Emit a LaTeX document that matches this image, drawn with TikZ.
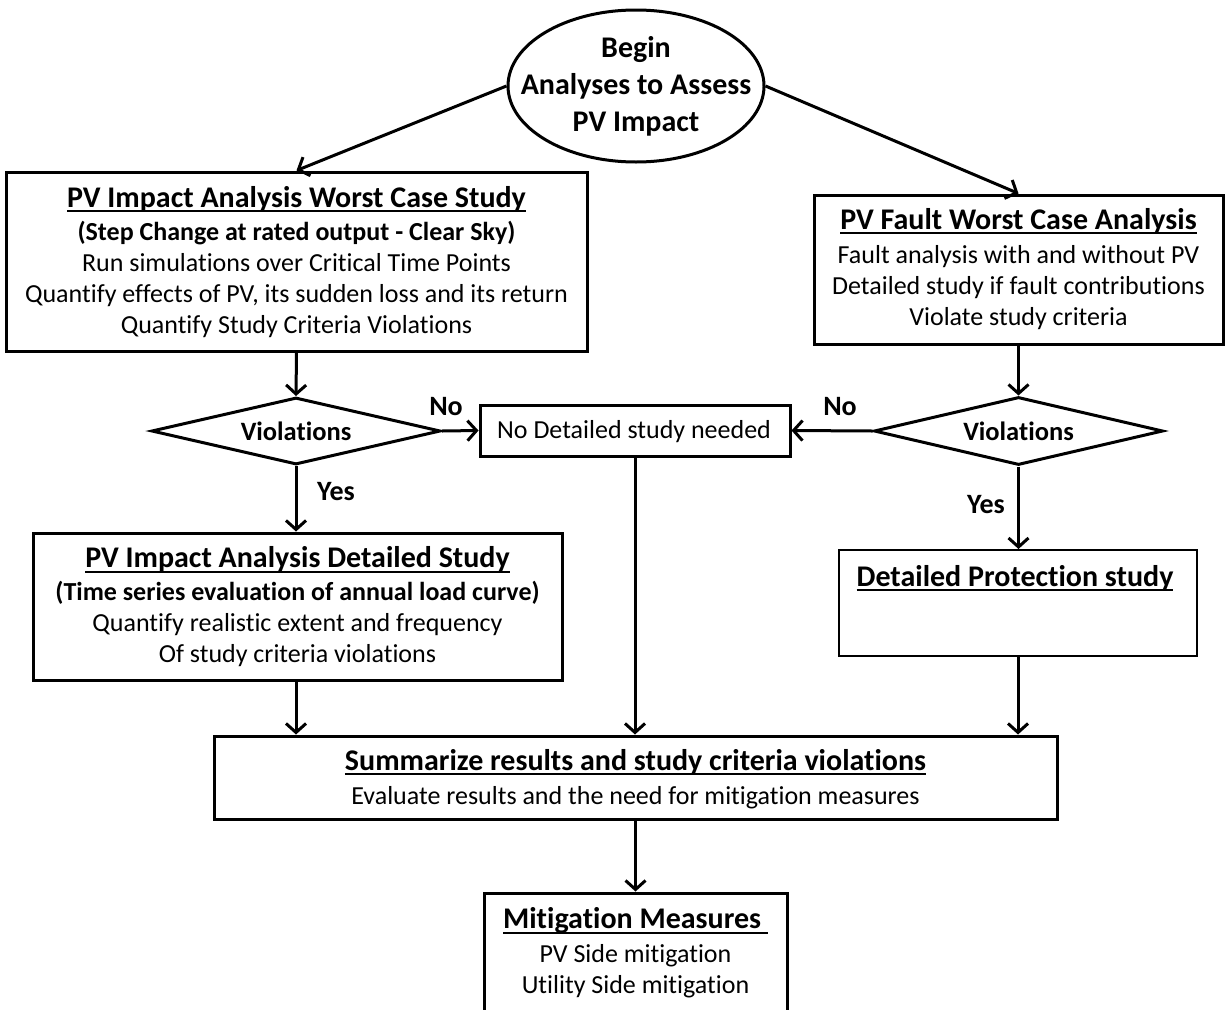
\documentclass[tikz,border=0pt]{standalone}
\usepackage{fontspec}
\setmainfont[Ligatures=NoCommon]{Carlito}
\usetikzlibrary{shapes.geometric,arrows.meta}
\newcommand\myul[1]{\setbox0\hbox{#1}\rlap{\vrule height -3pt depth 5pt width \wd0}\box0}
\begin{document}
\begin{tikzpicture}[x=1pt,y=-1pt,
  box/.style={draw,line width=3pt,inner sep=0pt,align=center,font=\fontsize{26}{31}\selectfont},
  txt/.style={align=center,inner sep=0pt,font=\fontsize{26}{31}\selectfont},
  dia/.style={draw,diamond,line width=3pt,inner sep=0pt,shape aspect=5,font=\bfseries\fontsize{26.5}{28}\selectfont},
  lbl/.style={font=\bfseries\fontsize{28}{30}\selectfont,inner sep=0pt},
  arr/.style={line width=3pt,-{Straight Barb[length=9pt,width=20pt,line width=3pt]}},
  hd/.style={font=\bfseries\fontsize{30}{32}\selectfont}
]
\useasboundingbox (0,0) rectangle (1225,1009);
\fill[white] (0,0) rectangle (1225,1009);

\node[draw,ellipse,line width=3pt,inner sep=0pt,minimum width=256,minimum height=152] (ell) at (636,86) {};
\node[txt,font=\bfseries\fontsize{30}{37}\selectfont] (te) at (636,86) {Begin\\Analyses to Assess\\PV Impact};

\node[box,minimum width=581,minimum height=179] (b1) at (296.5,261.5) {};
\node[txt] (t1) at (296.5,262) {{\bfseries\fontsize{30}{32}\selectfont\myul{PV Impact Analysis Worst Case Study}}\\[2pt]{\bfseries\fontsize{26}{30}\selectfont(Step Change at rated output - Clear Sky)}\\Run simulations over Critical Time Points\\Quantify effects of PV, its sudden loss and its return\\Quantify Study Criteria Violations};

\node[box,minimum width=409,minimum height=149] (b2) at (1018.5,269.5) {};
\node[txt] (t2) at (1018.5,269) {{\bfseries\fontsize{30}{32}\selectfont\myul{PV Fault Worst Case Analysis}}\\[3pt]Fault analysis with and without PV\\Detailed study if fault contributions\\Violate study criteria};

\node[dia,minimum width=289,minimum height=67] (d1) at (296,431) {Violations};
\node[dia,minimum width=289,minimum height=68] (d2) at (1018.5,431) {Violations};

\node[box,minimum width=310,minimum height=51] (nb) at (635,430.5) {};
\node[txt] (tnb) at (634,432) {No Detailed study needed};

\node[box,minimum width=529,minimum height=147] (b3) at (297.5,606.5) {};
\node[txt] (t3) at (297.5,607) {{\bfseries\fontsize{30}{32}\selectfont\myul{PV Impact Analysis Detailed Study}}\\[2pt]{\bfseries\fontsize{26}{30}\selectfont(Time series evaluation of annual load curve)}\\Quantify realistic extent and frequency\\Of study criteria violations};

\node[box,line width=2pt,minimum width=358,minimum height=106] (b4) at (1018,603) {};
\node[hd,inner sep=0pt] (t4) at (1015,578) {\myul{Detailed Protection study}};

\node[box,minimum width=843,minimum height=83] (b5) at (635.5,777.5) {};
\node[txt] (t5) at (635.5,779) {{\bfseries\fontsize{30}{32}\selectfont\myul{Summarize results and study criteria violations}}\\[3pt]Evaluate results and the need for mitigation measures};

\node[box,minimum width=303,minimum height=122] (b6) at (635.5,954) {};
\node[txt] (t6) at (635.5,953) {{\bfseries\fontsize{30}{32}\selectfont\myul{Mitigation Measures }}\\[3pt]PV Side mitigation\\Utility Side mitigation};

\node[lbl] (no1) at (446,407) {No};
\node[lbl] (no2) at (840,407) {No};
\node[lbl] (yes1) at (336,492) {Yes};
\node[lbl] (yes2) at (986,505) {Yes};

\draw[arr] (ell.west) -- (b1.north);
\draw[arr] (ell.east) -- (b2.north);
\draw[arr] (b1.south) -- (d1.north);
\draw[arr] (d1.east) -- (nb.west);
\draw[arr] (d1.south) -- (b3.north -| d1.south);
\draw[arr] (b2.south) -- (d2.north);
\draw[arr] (d2.west) -- (nb.east);
\draw[arr] (d2.south) -- (b4.north -| d2.south);
\draw[arr] (b3.south -| d1.south) -- (b5.north -| d1.south);
\draw[arr] (nb.south) -- (b5.north -| nb.south);
\draw[arr] (b4.south) -- (b5.north -| b4.south);
\draw[arr] (b5.south) -- (b6.north);
\end{tikzpicture}
\end{document}
